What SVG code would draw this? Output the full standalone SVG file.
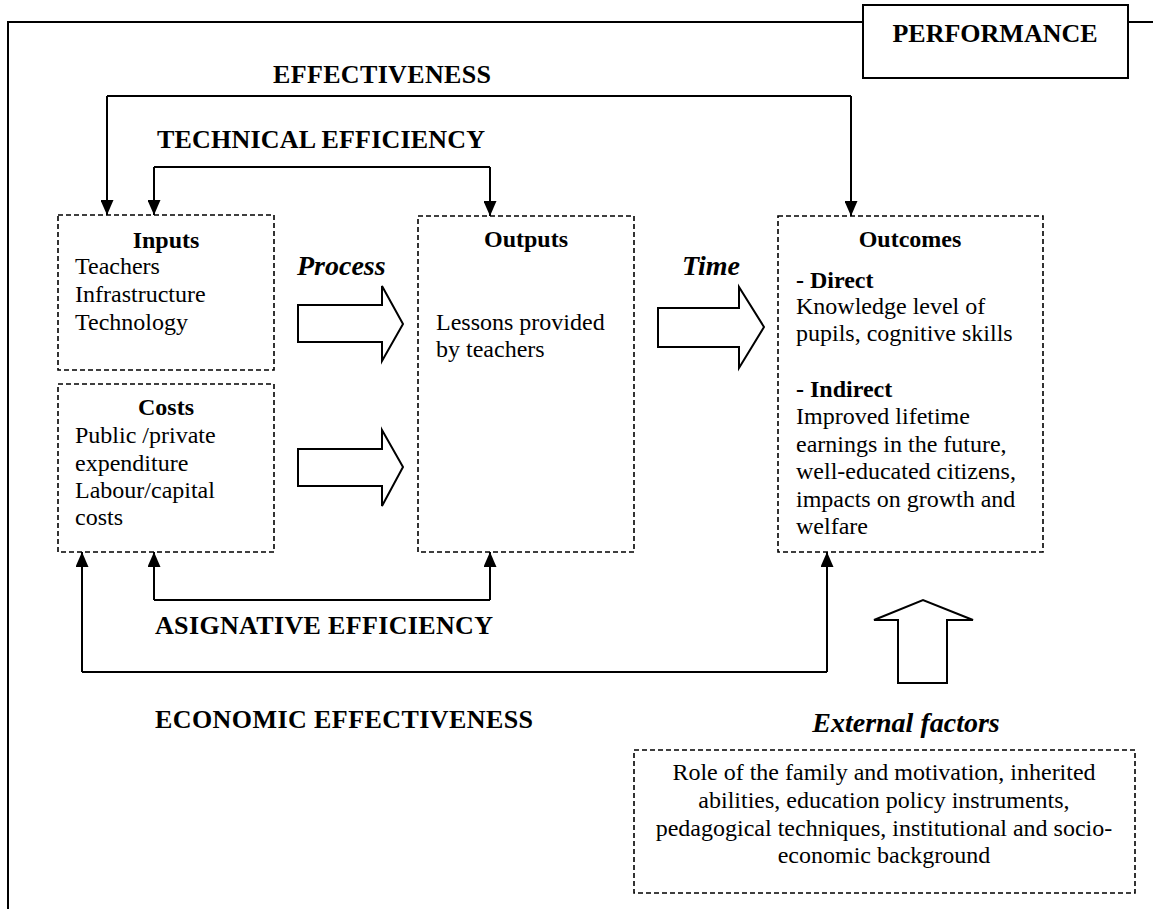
<svg xmlns="http://www.w3.org/2000/svg" width="1153" height="909" viewBox="0 0 1153 909">
<style>
  .frame{fill:none;stroke:#000;stroke-width:2}
  .dbox{fill:#fff;stroke:#000;stroke-width:1.6;stroke-dasharray:5,3}
  .conn{fill:none;stroke:#000;stroke-width:2}
  .blk{fill:#fff;stroke:#000;stroke-width:2;stroke-linejoin:miter}
  text{font-family:'Liberation Serif','DejaVu Serif',serif;fill:#000}
  .t{font-size:24px}
  .tb{font-size:24px;font-weight:bold}
  .hb{font-size:26px;font-weight:bold}
  .bi{font-size:28px;font-weight:bold;font-style:italic}
  .c{text-anchor:middle}
</style>
<defs>
  <marker id="ah" markerUnits="userSpaceOnUse" markerWidth="15" markerHeight="13" viewBox="0 0 15 13" refX="15" refY="6.5" orient="auto">
    <path d="M0,0 L15,6.5 L0,13 z" fill="#000"/>
  </marker>
</defs>
<rect width="1153" height="909" fill="#fff"/>

<g id="frame">
  <path class="frame" d="M8,909 L8,22 L863,22 M1128,22 L1153,22"/>
</g>
<g id="performance" font-family="Liberation Serif, serif">
  <rect class="frame" x="863" y="5" width="265" height="73"/>
  <text class="hb c" x="995" y="42">PERFORMANCE</text>
</g>

<g id="connectors" font-family="Liberation Serif, serif">
  <path class="conn" d="M107,96 L851,96" />
  <path class="conn" d="M107,96 L107,215" marker-end="url(#ah)"/>
  <path class="conn" d="M851,96 L851,216" marker-end="url(#ah)"/>
  <path class="conn" d="M154,167 L490,167"/>
  <path class="conn" d="M154,167 L154,215" marker-end="url(#ah)"/>
  <path class="conn" d="M490,167 L490,216" marker-end="url(#ah)"/>
  <path class="conn" d="M154,600 L154,552" marker-end="url(#ah)"/>
  <path class="conn" d="M490,600 L490,552" marker-end="url(#ah)"/>
  <path class="conn" d="M154,600 L490,600"/>
  <path class="conn" d="M82,672 L82,552" marker-end="url(#ah)"/>
  <path class="conn" d="M827,672 L827,552" marker-end="url(#ah)"/>
  <path class="conn" d="M82,672 L827,672"/>
  <text class="hb" x="273" y="83" textLength="218">EFFECTIVENESS</text>
  <text class="hb" x="157" y="148" textLength="328">TECHNICAL EFFICIENCY</text>
  <text class="hb" x="155" y="634" textLength="338">ASIGNATIVE EFFICIENCY</text>
  <text class="hb" x="155" y="728" textLength="378">ECONOMIC EFFECTIVENESS</text>
</g>

<g id="inputs">
  <rect class="dbox" x="58" y="215" width="216" height="155"/>
  <text class="tb c" x="166" y="248">Inputs</text>
  <text class="t" x="75" y="274">Teachers</text>
  <text class="t" x="75" y="302">Infrastructure</text>
  <text class="t" x="75" y="330">Technology</text>
</g>

<g id="costs">
  <rect class="dbox" x="58" y="384" width="216" height="168"/>
  <text class="tb c" x="166" y="415">Costs</text>
  <text class="t" x="75" y="443">Public /private</text>
  <text class="t" x="75" y="471">expenditure</text>
  <text class="t" x="75" y="498">Labour/capital</text>
  <text class="t" x="75" y="525">costs</text>
</g>

<g id="outputs">
  <rect class="dbox" x="418" y="216" width="216" height="336"/>
  <text class="tb c" x="526" y="247">Outputs</text>
  <text class="t" x="436" y="330">Lessons provided</text>
  <text class="t" x="436" y="357">by teachers</text>
</g>

<g id="outcomes">
  <rect class="dbox" x="778" y="216" width="265" height="336"/>
  <text class="tb c" x="910" y="247">Outcomes</text>
  <text class="tb" x="796" y="288">- Direct</text>
  <text class="t" x="796" y="314">Knowledge level of</text>
  <text class="t" x="796" y="341">pupils, cognitive skills</text>
  <text class="tb" x="796" y="397">- Indirect</text>
  <text class="t" x="796" y="424">Improved lifetime</text>
  <text class="t" x="796" y="452">earnings in the future,</text>
  <text class="t" x="796" y="479">well-educated citizens,</text>
  <text class="t" x="796" y="507">impacts on growth and</text>
  <text class="t" x="796" y="534">welfare</text>
</g>

<g id="process">
  <text class="bi" x="297" y="275">Process</text>
  <path class="blk" d="M298,305 L382,305 L382,286 L403,324 L382,361 L382,342 L298,342 Z"/>
  <path class="blk" d="M298,449 L382,449 L382,430 L403,467 L382,506 L382,486 L298,486 Z"/>
</g>

<g id="time">
  <text class="bi" x="682" y="275">Time</text>
  <path class="blk" d="M658,308 L739,308 L739,287 L764,327 L739,368 L739,347 L658,347 Z"/>
</g>

<g id="external">
  <path class="blk" d="M898,683 L898,620 L874,620 L923,600 L973,620 L947,620 L947,683 Z"/>
  <text class="bi c" x="906" y="732">External factors</text>
  <rect class="dbox" x="634" y="750" width="501" height="143"/>
  <text class="t c" x="884" y="780">Role of the family and motivation, inherited</text>
  <text class="t c" x="884" y="808">abilities, education policy instruments,</text>
  <text class="t c" x="884" y="836">pedagogical techniques, institutional and socio-</text>
  <text class="t c" x="884" y="863">economic background</text>
</g>
</svg>
